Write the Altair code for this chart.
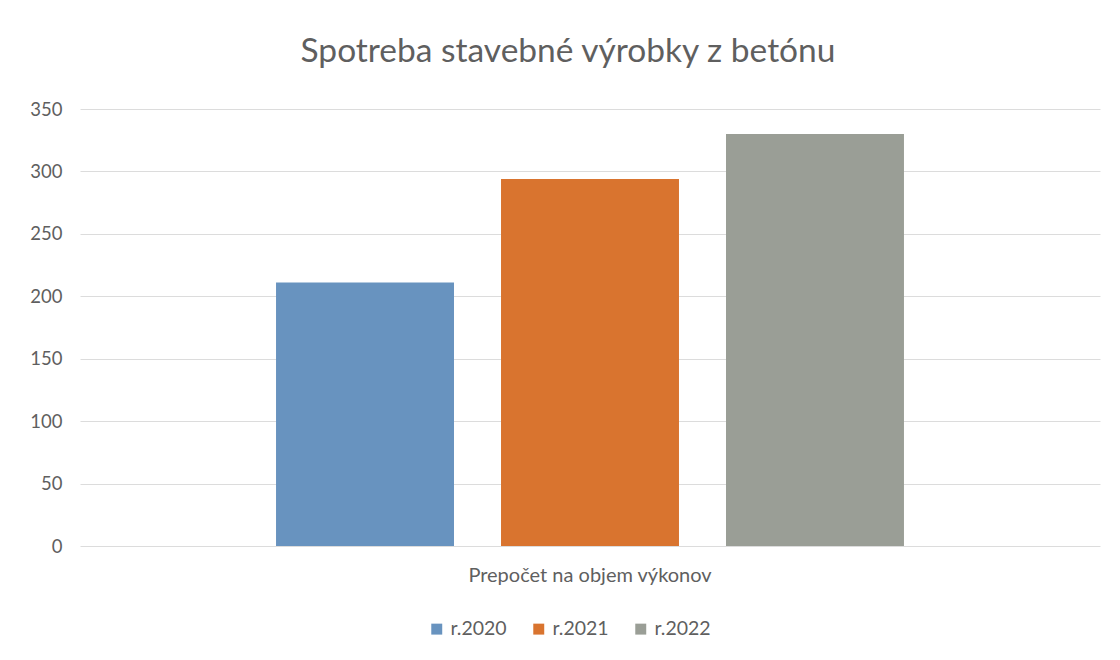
import altair as alt
import pandas as pd

category = ["Prepočet na objem výkonov"] * 3
years = ["r.2020", "r.2021", "r.2022"]
values = [211, 294, 330]
colors = ["#6893BF", "#D9742F", "#9A9E96"]

df = pd.DataFrame({"kategoria": category, "rok": years, "hodnota": values})

FONT = "Lato"
TXT = "#5f5f5f"

chart = (
    alt.Chart(df)
    .mark_bar()
    .encode(
        x=alt.X(
            "kategoria:N",
            title=None,
            scale=alt.Scale(paddingInner=0, paddingOuter=0.2556),
            axis=alt.Axis(
                labelAngle=0,
                labelFontSize=20,
                labelColor=TXT,
                labelFont=FONT,
                labelPadding=19,
                ticks=False,
                grid=False,
                domain=False,
                labelLimit=500,
            ),
        ),
        xOffset=alt.XOffset(
            "rok:N",
            scale=alt.Scale(paddingInner=0.209, paddingOuter=0.1045),
        ),
        y=alt.Y(
            "hodnota:Q",
            title=None,
            scale=alt.Scale(domain=[0, 350]),
            axis=alt.Axis(
                values=[0, 50, 100, 150, 200, 250, 300, 350],
                labelFontSize=18.5,
                labelColor=TXT,
                labelFont=FONT,
                labelPadding=18,
                ticks=False,
                domain=False,
                gridColor="#dcdcdc",
                gridWidth=1,
            ),
        ),
        color=alt.Color(
            "rok:N",
            scale=alt.Scale(domain=years, range=colors),
            legend=alt.Legend(
                title=None,
                orient="none",
                legendX=347,
                legendY=510,
                direction="horizontal",
                symbolType="square",
                symbolSize=120,
                symbolStrokeWidth=0,
                labelFontSize=19.5,
                labelColor=TXT,
                labelFont=FONT,
                columnPadding=22,
                labelOffset=4,
            ),
        ),
    )
    .properties(
        width=1020,
        height=437,
        padding={"left": 72, "top": 101, "right": 4, "bottom": 100},
        autosize=alt.AutoSizeParams(type="none"),
        view=alt.ViewBackground(strokeWidth=0, strokeOpacity=0, stroke="white"),
        title=alt.TitleParams(
            "Spotreba stavebné výrobky z betónu",
            fontSize=33.5,
            font=FONT,
            fontWeight="normal",
            color=TXT,
            anchor="middle",
            dx=-22,
            offset=31,
        ),
    )
    .configure_view(strokeWidth=0)
    .configure(background="white")
)

chart.save("out.html", embed_options={"renderer": "svg", "actions": False})
